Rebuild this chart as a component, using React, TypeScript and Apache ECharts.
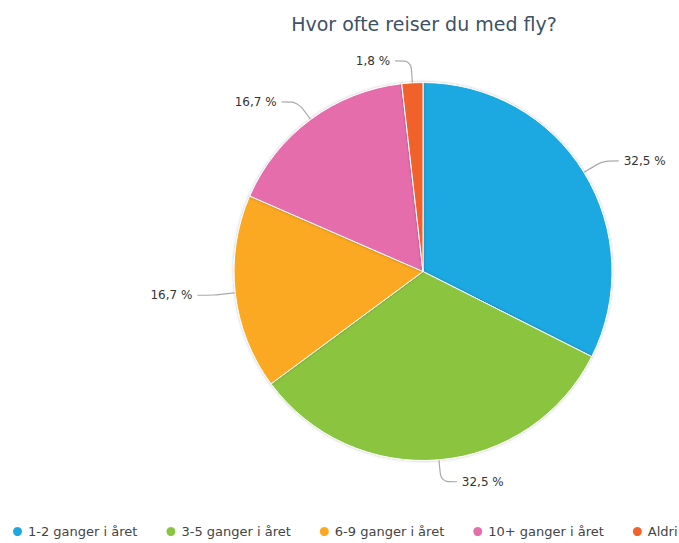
import React, { useEffect, useRef } from "react";
import * as echarts from "echarts";

const titleText = "Hvor ofte reiser du med fly?";
const categories = ["1-2 ganger i året", "3-5 ganger i året", "6-9 ganger i året", "10+ ganger i året", "Aldri"];
const percentValues = [32.5, 32.5, 16.7, 16.7, 1.8];
const sliceColors = ["#1FA8E0", "#8BC540", "#FBA823", "#E66DAC", "#F1622A"];

export default function App() {
  const ref = useRef<HTMLDivElement>(null);
  useEffect(() => {
    if (!ref.current) return;
    const chart = echarts.init(ref.current, null, { renderer: "svg" });
    const font = "DejaVu Sans";
    chart.setOption({
      animation: false,
      backgroundColor: "#ffffff",
      color: sliceColors,
      title: {
        text: titleText,
        left: 419,
        top: 9,
        textAlign: "center",
        textStyle: { fontFamily: font, fontSize: 19, fontWeight: "normal", color: "#3D5266" },
      },
      legend: {
        top: 520,
        left: 6,
        width: 1000,
        icon: "circle",
        itemWidth: 11,
        itemHeight: 11,
        itemGap: 27,
        textStyle: { fontFamily: font, fontSize: 13, color: "#444" },
        data: categories,
      },
      series: [
        {
          type: "pie",
          center: [423, 271.5],
          radius: 189,
          startAngle: 90,
          clockwise: true,
          data: categories.map((c, i) => ({ name: c, value: percentValues[i] })),
          itemStyle: { borderColor: "#ffffff", borderWidth: 1, shadowBlur: 3, shadowColor: "rgba(0,0,0,0.25)" },
          label: {
            formatter: (p: any) => p.value.toFixed(1).replace(".", ",") + " %",
            fontFamily: font,
            fontSize: 12,
            color: "#333",
          },
          labelLine: {
            length: 22,
            length2: 16,
            smooth: 0.3,
            lineStyle: { color: "#aaa", width: 1.2 },
          },
        },
      ],
    });
    return () => chart.dispose();
  }, []);
  return (
    <div
      ref={ref}
      style={{ position: "fixed", left: 0, top: 0, width: 679, height: 543 }}
    />
  );
}
